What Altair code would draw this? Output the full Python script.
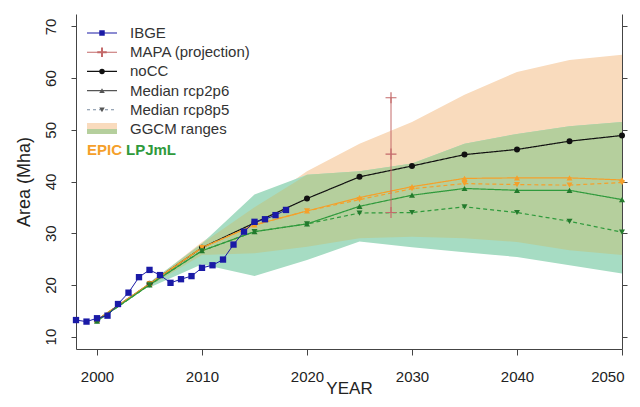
import altair as alt
import pandas as pd

# ---------------- data ----------------
ibge_years = list(range(1998, 2019))
ibge_area = [13.2, 12.9, 13.55, 14.05, 16.3, 18.5, 21.5, 22.9, 21.9, 20.4, 21.1,
             21.7, 23.3, 23.8, 24.9, 27.8, 30.3, 32.2, 32.7, 33.5, 34.5]

years5 = [2000, 2005, 2010, 2015, 2020, 2025, 2030, 2035, 2040, 2045, 2050]
nocc = [13.2, 20.2, 27.2, 32.0, 36.7, 40.9, 43.0, 45.2, 46.2, 47.8, 48.9]
epic_rcp26 = [13.2, 20.2, 27.2, 31.6, 34.3, 36.9, 39.0, 40.6, 40.7, 40.7, 40.3]
epic_rcp85 = [13.2, 20.2, 27.2, 31.6, 34.3, 36.5, 38.6, 39.6, 39.4, 39.3, 39.8]
lpj_rcp26 = [13.0, 20.0, 26.6, 30.3, 31.8, 35.2, 37.35, 38.65, 38.3, 38.3, 36.5]
lpj_rcp85 = [13.0, 20.0, 26.6, 30.3, 31.8, 33.9, 34.0, 35.1, 34.0, 32.3, 30.2]

band_years = [2005, 2010, 2015, 2020, 2025, 2030, 2035, 2040, 2045, 2050]
epic_lo = [19.8, 25.8, 26.1, 27.4, 29.0, 29.3, 29.0, 28.3, 26.7, 25.8]
epic_hi = [20.3, 28.3, 35.0, 42.0, 47.3, 51.5, 56.8, 61.2, 63.5, 64.5]
lpj_lo = [19.5, 24.0, 21.7, 24.8, 28.4, 27.3, 26.3, 25.4, 23.8, 22.2]
lpj_hi = [20.5, 28.0, 37.5, 41.3, 42.0, 43.5, 47.3, 49.2, 50.7, 51.5]

mapa_year = 2028
mapa_vals = [34.0, 45.3, 56.2]

y_ticks = [10, 20, 30, 40, 50, 60, 70]
x_ticks = [2000, 2010, 2020, 2030, 2040, 2050]

legend_labels = ["IBGE", "MAPA (projection)", "noCC", "Median rcp2p6",
                 "Median rcp8p5", "GGCM ranges"]

# ---------------- styles ----------------
FONT = "Liberation Sans"
C_PEACH = "#f9dbbd"
C_MINT = "#a6dcc3"
C_OLIVE = "#b5cf9d"
C_ORANGE = "#f5a02a"
C_GREEN = "#2f9a3c"
C_GREEN_M = "#237a2c"
C_BLUE = "#1a1aa6"
C_RED = "#c46a6a"
C_BLACK = "#111111"

xscale = alt.Scale(domain=[1998, 2050], nice=False, zero=False)
yscale = alt.Scale(domain=[7.6, 72.4], nice=False, zero=False)

x_axis = alt.Axis(values=x_ticks, format="d", title="YEAR", labelFontSize=15,
                  titleFontSize=17, titleFontWeight="normal", tickSize=6,
                  labelPadding=14, titleY=44, titleBaseline="alphabetic",
                  grid=False, labelFlush=True, labelFlushOffset=2,
                  domainColor="#444", tickColor="#444", labelColor="#222",
                  titleColor="#222", labelFont=FONT, titleFont=FONT)
y_axis = alt.Axis(values=y_ticks, title="Area (Mha)", labelFontSize=15,
                  titleFontSize=18, titleFontWeight="normal", tickSize=5,
                  labelAngle=270, labelAlign="center", labelBaseline="bottom",
                  labelPadding=13, titlePadding=10, grid=False,
                  domainColor="#444", tickColor="#444", labelColor="#222",
                  titleColor="#222", labelFont=FONT, titleFont=FONT)
y_axis_right = alt.Axis(values=y_ticks, orient="right", labels=False, title=None,
                        tickSize=5, grid=False, domainColor="#444", tickColor="#444")

# ---------------- tables ----------------
bands = pd.DataFrame({"year": band_years, "epic_lo": epic_lo, "epic_hi": epic_hi,
                      "lpj_lo": lpj_lo, "lpj_hi": lpj_hi})
bands["ov_lo"] = bands[["epic_lo", "lpj_lo"]].max(axis=1)
bands["ov_hi"] = bands[["epic_hi", "lpj_hi"]].min(axis=1)

series_spec = [
    ("noCC", nocc, C_BLACK, C_BLACK, "solid", "circle"),
    ("EPIC rcp2p6", epic_rcp26, C_ORANGE, C_ORANGE, "solid", "triangle-up"),
    ("EPIC rcp8p5", epic_rcp85, C_ORANGE, C_ORANGE, "dashed", "triangle-down"),
    ("LPJmL rcp2p6", lpj_rcp26, C_GREEN, C_GREEN_M, "solid", "triangle-up"),
    ("LPJmL rcp8p5", lpj_rcp85, C_GREEN, C_GREEN_M, "dashed", "triangle-down"),
]
rows = []
for name, vals, lc, mc, dash, shape in series_spec:
    for yr, v in zip(years5, vals):
        rows.append({"series": name, "year": yr, "value": v, "lcolor": lc,
                     "mcolor": mc, "dash": dash, "shape": shape})
models = pd.DataFrame(rows)

ibge = pd.DataFrame({"year": ibge_years, "value": ibge_area})
mapa = pd.DataFrame({"year": [mapa_year] * len(mapa_vals), "value": mapa_vals})

X = alt.X("year:Q", scale=xscale, axis=x_axis)

# ---------------- layers ----------------
band_epic = alt.Chart(bands).mark_area(color=C_PEACH, opacity=1).encode(
    x=X, y=alt.Y("epic_lo:Q", scale=yscale, axis=y_axis), y2="epic_hi:Q")
band_lpj = alt.Chart(bands).mark_area(color=C_MINT, opacity=1).encode(
    x=X, y=alt.Y("lpj_lo:Q", scale=yscale, axis=None), y2="lpj_hi:Q")
band_ov = alt.Chart(bands).mark_area(color=C_OLIVE, opacity=1).encode(
    x=X, y=alt.Y("ov_lo:Q", scale=yscale, axis=None), y2="ov_hi:Q")

right_axis = alt.Chart(ibge).mark_point(opacity=0).encode(
    x=X, y=alt.Y("value:Q", scale=yscale, axis=y_axis_right))

model_lines = alt.Chart(models).mark_line(strokeWidth=1.2).encode(
    x=X, y=alt.Y("value:Q", scale=yscale, axis=None),
    detail="series:N",
    color=alt.Color("lcolor:N", scale=None),
    strokeDash=alt.StrokeDash("dash:N", scale=alt.Scale(domain=["solid", "dashed"],
                                                        range=[[1, 0], [4, 3]]),
                              legend=None))
model_pts = alt.Chart(models).mark_point(filled=True, size=36, opacity=1).encode(
    x=X, y=alt.Y("value:Q", scale=yscale, axis=None),
    color=alt.Color("mcolor:N", scale=None),
    shape=alt.Shape("shape:N", scale=None))

ibge_line = alt.Chart(ibge).mark_line(color=C_BLUE, strokeWidth=1).encode(
    x=X, y=alt.Y("value:Q", scale=yscale, axis=None))
ibge_pts = alt.Chart(ibge).mark_point(shape="square", filled=True, size=40,
                                      color=C_BLUE, opacity=1).encode(
    x=X, y=alt.Y("value:Q", scale=yscale, axis=None))

mapa_line = alt.Chart(mapa).mark_line(color=C_RED, strokeWidth=1).encode(
    x=X, y=alt.Y("value:Q", scale=yscale, axis=None))
PLUS = "M-1,0L1,0M0,-1L0,1"
mapa_pts = alt.Chart(mapa).mark_point(shape=PLUS, filled=False, size=120,
                                      color=C_RED, strokeWidth=1.2,
                                      opacity=1).encode(
    x=X, y=alt.Y("value:Q", scale=yscale, axis=None))

# ---------------- legend (manual) ----------------
leg_layers = []
row0, drow = 19, 19.2
sym = [
    (C_BLUE, "square", "solid", C_BLUE),
    (C_RED, PLUS, "solid", C_RED),
    (C_BLACK, "circle", "solid", C_BLACK),
    ("#555555", "triangle-up", "solid", "#555555"),
    ("#7a8aa0", "triangle-down", "dashed", "#555555"),
]
one = pd.DataFrame({"k": [0]})
for i, label in enumerate(legend_labels):
    ly = row0 + drow * i
    if i < len(sym):
        lc, shp, dash, mc = sym[i]
        leg_layers.append(alt.Chart(one).mark_rule(
            color=lc, strokeWidth=1.1,
            strokeDash=[1, 0] if dash == "solid" else [3, 3]).encode(
            x=alt.value(11), x2=alt.value(41), y=alt.value(ly)))
        leg_layers.append(alt.Chart(one).mark_point(
            shape=shp, filled=(shp != PLUS), size=30 if shp != PLUS else 90,
            color=mc, opacity=1).encode(x=alt.value(26), y=alt.value(ly)))
    else:
        leg_layers.append(alt.Chart(one).mark_rect(color=C_PEACH).encode(
            x=alt.value(11), x2=alt.value(41), y=alt.value(ly - 6), y2=alt.value(ly)))
        leg_layers.append(alt.Chart(one).mark_rect(color=C_OLIVE).encode(
            x=alt.value(11), x2=alt.value(41), y=alt.value(ly), y2=alt.value(ly + 5)))
    leg_layers.append(alt.Chart(one).mark_text(
        text=label, align="left", baseline="middle", fontSize=15, font=FONT,
        color="#333333").encode(x=alt.value(54), y=alt.value(ly)))

ly_models = row0 + drow * 6 + 2
leg_layers.append(alt.Chart(one).mark_text(
    text="EPIC", align="left", baseline="middle", fontSize=15, font=FONT,
    fontWeight="bold", color=C_ORANGE).encode(x=alt.value(11), y=alt.value(ly_models)))
leg_layers.append(alt.Chart(one).mark_text(
    text="LPJmL", align="left", baseline="middle", fontSize=15, font=FONT,
    fontWeight="bold", color=C_GREEN).encode(x=alt.value(50), y=alt.value(ly_models)))

chart = alt.layer(
    band_epic, band_lpj, band_ov, right_axis,
    model_lines, model_pts, mapa_line, mapa_pts, ibge_line, ibge_pts,
    *leg_layers
).resolve_axis(y="independent").properties(
    width=546, height=335,
    padding={"left": 68, "top": 6, "right": 10, "bottom": 50},
    autosize="none",
    background="white",
).configure_view(stroke=None)

chart.save("out.html", embed_options={"renderer": "svg", "actions": False})
